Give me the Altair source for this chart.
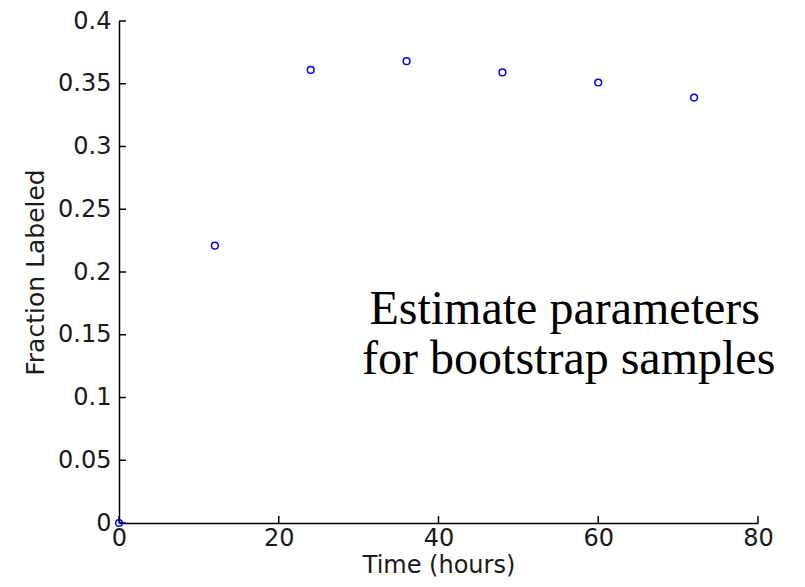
import altair as alt
import pandas as pd

# Data
time_hours = [0, 12, 24, 36, 48, 60, 72]
fraction_labeled = [0.0, 0.221, 0.361, 0.368, 0.359, 0.351, 0.339]

x_ticks = [0, 20, 40, 60, 80]
y_ticks = [0, 0.05, 0.1, 0.15, 0.2, 0.25, 0.3, 0.35, 0.4]

note_lines = ["Estimate parameters", "for bootstrap samples"]
note_x = [55.8, 56.3]
note_y = [0.1586, 0.1187]

pts = pd.DataFrame({"t": time_hours, "f": fraction_labeled})
xt = pd.DataFrame({"t": x_ticks})
yt = pd.DataFrame({"f": y_ticks})
notes = pd.DataFrame({"t": note_x, "f": note_y, "txt": note_lines})

FONT = "DejaVu Sans"
TXT = "#1a1a1a"

xscale = alt.Scale(domain=[0, 80], nice=False, zero=False)
yscale = alt.Scale(domain=[0, 0.4], nice=False, zero=False)

xaxis = alt.Axis(
    values=x_ticks, format="~g", ticks=False, grid=False,
    domainColor="#000000", domainWidth=1.5,
    labelFont=FONT, labelFontSize=24, labelColor=TXT, labelPadding=3,
    labelFlush=False,
    title="Time (hours)", titleFont=FONT, titleFontSize=24, titleFontWeight="normal",
    titleColor=TXT, titleX=319.5, titleY=49, titleAlign="center",
    titleBaseline="alphabetic",
)
yaxis = alt.Axis(
    values=y_ticks, format="~g", ticks=False, grid=False,
    domainColor="#000000", domainWidth=1.5,
    labelFont=FONT, labelFontSize=24, labelColor=TXT, labelPadding=8,
    labelFlush=False,
    title="Fraction Labeled", titleFont=FONT, titleFontSize=25, titleFontWeight="normal",
    titleColor=TXT, titleX=-76, titleY=251, titleAngle=-90, titleAlign="center",
    titleBaseline="alphabetic",
)

points = alt.Chart(pts).mark_point(
    shape="circle", filled=False, color="#0000ff", strokeWidth=1.5, size=45, opacity=1
).encode(
    x=alt.X("t:Q", scale=xscale, axis=xaxis),
    y=alt.Y("f:Q", scale=yscale, axis=yaxis),
)

xtick_marks = alt.Chart(xt).mark_rule(color="#000000", strokeWidth=1.5).encode(
    x=alt.X("t:Q", scale=xscale),
    y=alt.value(502),
    y2=alt.value(495),
)

ytick_marks = alt.Chart(yt).mark_rule(color="#000000", strokeWidth=1.5).encode(
    y=alt.Y("f:Q", scale=yscale),
    x=alt.value(0),
    x2=alt.value(7),
)

note = alt.Chart(notes).mark_text(
    font="Liberation Serif", fontSize=48, color="#000000", align="center",
    baseline="alphabetic",
).encode(
    x=alt.X("t:Q", scale=xscale),
    y=alt.Y("f:Q", scale=yscale),
    text="txt:N",
)

chart = alt.layer(xtick_marks, ytick_marks, points, note).properties(
    width=639,
    height=502,
    autosize=alt.AutoSizeParams(type="none"),
    padding={"left": 111, "top": 13, "right": 39, "bottom": 56},
).configure(background="#ffffff").configure_view(stroke=None, strokeWidth=0)

chart.save("out.html", embed_options={"renderer": "svg", "actions": False})
